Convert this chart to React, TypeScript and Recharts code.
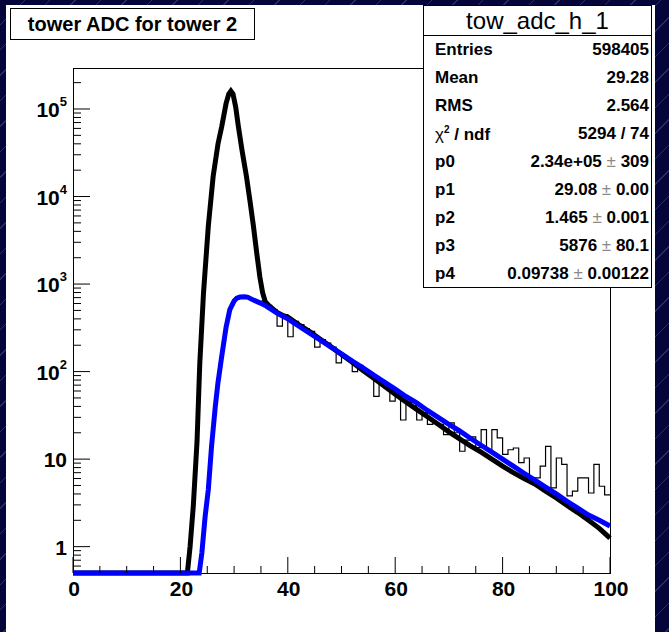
import React from "react";
import { ComposedChart, Line, XAxis, YAxis } from "recharts";

// histogram: low edge of each 1-ADC bin and its content (peak bins hidden under the fit curve)
const histLow = [
  35, 36, 37, 38, 39, 40,
  41, 42, 43, 44, 45, 46, 47, 48, 49, 50, 51, 52, 53, 54, 55, 56, 57, 58, 59, 60,
  61, 62, 63, 64, 65, 66, 67, 68, 69, 70, 71, 72, 73, 74, 75, 76, 77, 78, 79, 80,
  81, 82, 83, 84, 85, 86, 87, 88, 89, 90, 91, 92, 93, 94, 95, 96, 97, 98, 99,
];
const histCounts = [
  640, 570, 510, 330, 445, 250,
  375, 345, 310, 288, 190, 232, 212, 190, 126, 150, 138, 100, 118, 103, 92, 52, 76, 68, 46, 56,
  28, 45, 41, 28, 34, 25, 26, 25, 19, 26, 20, 12.3, 16.5, 18, 13.5, 21.7, 12.5, 21.7, 17.5, 11.3,
  12.8, 13.4, 9.1, 10.3, 6.1, 6.1, 8.3, 14, 4.7, 10.3, 8.7, 3.8, 4.3, 6.1, 6.1, 4.1, 8.7, 4.9, 3.9,
];

// total fit (black)
const totalX = [
  0, 21.3, 21.8, 22.4, 23.1, 23.6, 24.3, 25.2, 26.1, 27.0, 27.7, 28.5, 29.0, 29.4, 29.8, 30.3, 30.8, 31.5,
  32.3, 33.0, 33.6, 34.2, 34.8, 35.3, 35.8, 36.5, 37, 38, 39, 40, 42, 44, 46, 48, 50, 52, 54, 56, 58, 60,
  62, 64, 66, 68, 70, 72, 74, 76, 78, 80, 82, 84, 86, 88, 90, 92, 94, 96, 98, 100,
];
const totalY = [
  0.5, 0.5, 1, 2.9, 16, 120, 790, 4600, 17000, 40000, 63000, 115000, 148000, 160000, 148000, 105000, 63000, 33000,
  17000, 8500, 4600, 2300, 1200, 800, 630, 565, 535, 475, 440, 420, 345, 288, 236, 193, 157, 128, 103, 84, 68, 55,
  45, 37, 30.5, 25, 20.5, 17, 14.2, 12, 10, 8.3, 7.0, 6.0, 5.2, 4.3, 3.6, 2.95, 2.45, 2.0, 1.62, 1.25,
];

// background component of the fit (blue)
const bgX = [
  0, 23.5, 24.0, 24.6, 25.2, 25.8, 26.5, 27.0, 27.7, 28.5, 29.2, 30.0, 30.5, 31.1, 32.0, 32.6, 33.5, 34.8,
  36, 38, 40, 42, 44, 46, 48, 50, 52, 54, 56, 58, 60, 62, 64, 66, 68, 70, 72, 74, 76, 78, 80,
  82, 84, 86, 88, 90, 92, 94, 96, 98, 100,
];
const bgY = [
  0.5, 0.5, 0.85, 2.2, 4.5, 14, 40, 75, 150, 320, 510, 640, 690, 710, 715, 705, 660, 610,
  560, 465, 400, 332, 276, 230, 191, 159, 132, 110, 91, 76, 63, 52, 44, 36, 30, 25, 21, 17.3, 14.4, 12, 10,
  8.3, 6.9, 5.75, 4.8, 4.0, 3.3, 2.75, 2.3, 2.0, 1.72,
];

const xTicks = [0, 5, 10, 15, 20, 25, 30, 35, 40, 45, 50, 55, 60, 65, 70, 75, 80, 85, 90, 95, 100];
const xLabels = [0, 20, 40, 60, 80, 100];
const decades = [1, 10, 100, 1000, 10000, 100000];
const yTicks = [0.6, 0.7, 0.8, 0.9];
decades.forEach((d) => [1, 2, 3, 4, 5, 6, 7, 8, 9].forEach((m) => d * m < 2.9e5 && yTicks.push(d * m)));

const statsRows = [
  ["Entries", "598405"],
  ["Mean", "29.28"],
  ["RMS", "2.564"],
  ["chi2", "5294 / 74"],
  ["p0", "2.34e+05 ± 309"],
  ["p1", "29.08 ± 0.00"],
  ["p2", "1.465 ± 0.001"],
  ["p3", "5876 ± 80.1"],
  ["p4", "0.09738 ± 0.00122"],
];

const W = 669;
const H = 632;
const PLOT = { left: 73, top: 68, right: 610, bottom: 573 };
const FONT = "'Liberation Sans', Arial, Helvetica, sans-serif";

const histData = histLow.map((x, i) => ({ x, y: histCounts[i] })).concat([{ x: 100, y: histCounts[histCounts.length - 1] }]);
const totalData = totalX.map((x, i) => ({ x, y: totalY[i] }));
const bgData = bgX.map((x, i) => ({ x, y: bgY[i] }));

function YTick(props: any) {
  const { y, payload } = props;
  const v = payload.value;
  const exp = Math.round(Math.log10(v));
  const major = Math.abs(Math.log10(v) - exp) < 1e-6;
  return (
    <g>
      <line x1={PLOT.left} x2={PLOT.left + (major ? 17 : 8)} y1={y} y2={y} stroke="#000" strokeWidth={1} />
      {major && (
        <text x={PLOT.left - 6} y={y + 8} textAnchor="end" fontSize={21} fontWeight="bold" fill="#000" fontFamily={FONT}>
          {exp <= 1 ? String(v) : (
            <>
              10<tspan dy={-11} fontSize={13}>{exp}</tspan>
            </>
          )}
        </text>
      )}
    </g>
  );
}

function XTick(props: any) {
  const { x, payload } = props;
  const major = xLabels.includes(payload.value);
  return (
    <g>
      <line x1={x} x2={x} y1={PLOT.bottom} y2={PLOT.bottom - (major ? 16 : 7)} stroke="#000" strokeWidth={1} />
      {major && (
        <text x={x + 1} y={PLOT.bottom + 23} textAnchor="middle" fontSize={21} fontWeight="bold" fill="#000" fontFamily={FONT}>
          {payload.value}
        </text>
      )}
    </g>
  );
}

function StatsLabel({ name }: { name: string }) {
  if (name === "chi2")
    return (
      <span>
        <span style={{ fontWeight: "normal" }}>χ</span>
        <sup style={{ fontSize: 10 }}>2</sup> / ndf
      </span>
    );
  return <span>{name}</span>;
}

function StatsValue({ text }: { text: string }) {
  const parts = text.split(" ± ");
  if (parts.length < 2) return <span>{text}</span>;
  return (
    <span>
      {parts[0]} <span style={{ color: "#8a8a8a", fontWeight: "normal" }}>±</span> {parts[1]}
    </span>
  );
}

export default function App() {
  return (
    <div
      style={{
        position: "absolute",
        left: 0,
        top: 0,
        width: W,
        height: H,
        overflow: "hidden",
        background: "repeating-linear-gradient(135deg, #05053a 0px, #05053a 17px, #2c2c68 17px, #2c2c68 18px)",
        fontFamily: FONT,
      }}
    >
      <div style={{ position: "absolute", left: 6, top: 5, width: 649, height: 627, background: "#fff" }} />
      <div
        style={{
          position: "absolute",
          left: PLOT.left,
          top: PLOT.top,
          width: PLOT.right - PLOT.left + 1,
          height: PLOT.bottom - PLOT.top + 1,
          border: "1px solid #000",
          boxSizing: "border-box",
        }}
      />
      <div style={{ position: "absolute", left: 0, top: 0 }}>
        <ComposedChart width={W} height={H} margin={{ top: PLOT.top, right: W - PLOT.right, left: PLOT.left - 60, bottom: H - PLOT.bottom - 30 }}>
          <XAxis
            dataKey="x"
            type="number"
            domain={[0, 100]}
            ticks={xTicks}
            interval={0}
            axisLine={false}
            tickLine={false}
            tick={(p: any) => <XTick {...p} />}
            height={30}
          />
          <YAxis
            type="number"
            scale="log"
            domain={[0.5, 2.94e5]}
            ticks={yTicks}
            interval={0}
            axisLine={false}
            tickLine={false}
            tick={(p: any) => <YTick {...p} />}
            width={60}
          />
          <Line data={histData} dataKey="y" type="stepAfter" stroke="#000" strokeWidth={1.2} dot={false} activeDot={false} isAnimationActive={false} />
          <Line data={totalData} dataKey="y" type="linear" stroke="#000" strokeWidth={5} dot={false} activeDot={false} isAnimationActive={false} />
          <Line data={bgData} dataKey="y" type="linear" stroke="#0000ff" strokeWidth={5} dot={false} activeDot={false} isAnimationActive={false} />
        </ComposedChart>
      </div>

      <div
        style={{
          position: "absolute",
          left: 10,
          top: 8,
          width: 245,
          height: 32,
          boxSizing: "border-box",
          border: "1px solid #000",
          background: "#fff",
          fontSize: 20,
          fontWeight: "bold",
          lineHeight: "30px",
          textAlign: "center",
          color: "#000",
        }}
      >
        tower ADC for tower 2
      </div>

      <div
        style={{
          position: "absolute",
          left: 423,
          top: 5,
          width: 229,
          height: 283,
          boxSizing: "border-box",
          border: "1px solid #000",
          background: "#fff",
          color: "#000",
        }}
      >
        <div style={{ height: 29, borderBottom: "1px solid #000", fontSize: 24, lineHeight: "29px", textAlign: "center" }}>
          tow_adc_h_1
        </div>
        {statsRows.map(([name, value]) => (
          <div
            key={name}
            style={{
              height: 28,
              display: "flex",
              justifyContent: "space-between",
              alignItems: "center",
              padding: "0 2px 0 11px",
              fontSize: 17,
              fontWeight: "bold",
            }}
          >
            <StatsLabel name={name} />
            <StatsValue text={value} />
          </div>
        ))}
      </div>
    </div>
  );
}
